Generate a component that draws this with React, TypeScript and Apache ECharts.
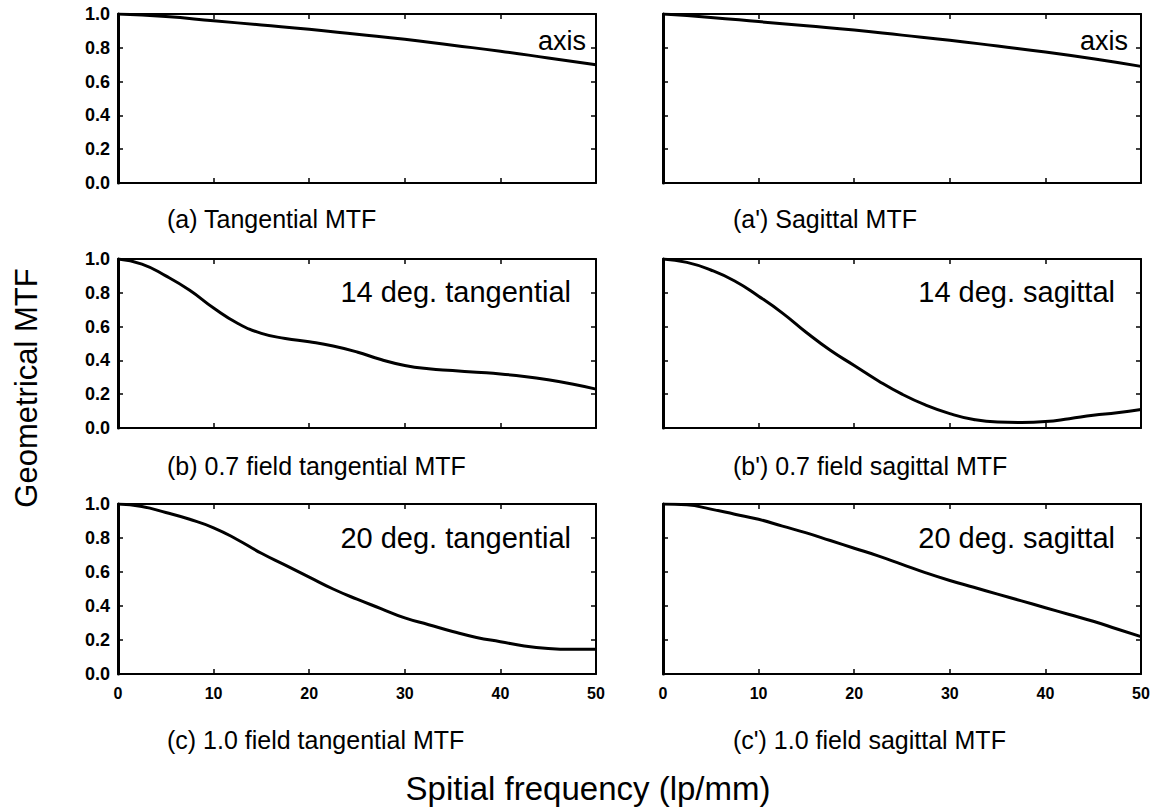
import React, { useEffect, useRef } from "react";
import * as echarts from "echarts";

// Spatial frequency samples (lp/mm)
const freqCoarse = [0, 5, 10, 15, 20, 25, 30, 35, 40, 45, 50];
const freqFine = [0, 2.5, 5, 7.5, 10, 12.5, 15, 17.5, 20, 22.5, 25, 27.5, 30, 32.5, 35, 37.5, 40, 42.5, 45, 47.5, 50];

// (a) on-axis tangential / (a') on-axis sagittal
const axisTangential = [1.0, 0.985, 0.96, 0.935, 0.91, 0.88, 0.85, 0.815, 0.78, 0.74, 0.70];
const axisSagittal = [1.0, 0.98, 0.955, 0.93, 0.905, 0.875, 0.845, 0.81, 0.775, 0.735, 0.69];

// (b) 0.7 field (14 deg)
const field07Tangential = [1.0, 0.97, 0.9, 0.815, 0.71, 0.62, 0.56, 0.53, 0.51, 0.485, 0.45, 0.405, 0.37, 0.35, 0.34, 0.33, 0.32, 0.305, 0.285, 0.26, 0.23];
const field07Sagittal = [1.0, 0.98, 0.935, 0.87, 0.78, 0.68, 0.565, 0.46, 0.37, 0.28, 0.2, 0.135, 0.085, 0.05, 0.035, 0.033, 0.038, 0.055, 0.075, 0.09, 0.11];

// (c) 1.0 field (20 deg)
const field10Tangential = [1.0, 0.985, 0.95, 0.91, 0.86, 0.79, 0.71, 0.64, 0.57, 0.5, 0.44, 0.385, 0.33, 0.29, 0.25, 0.215, 0.19, 0.165, 0.15, 0.145, 0.145];
const field10Sagittal = [1.0, 0.995, 0.97, 0.94, 0.91, 0.87, 0.83, 0.785, 0.74, 0.695, 0.645, 0.595, 0.55, 0.51, 0.47, 0.43, 0.39, 0.35, 0.31, 0.265, 0.22];

const xTicks = [0, 10, 20, 30, 40, 50];
const yTicks = [0, 0.2, 0.4, 0.6, 0.8, 1.0];

const panelLabels = ["axis", "axis", "14 deg. tangential", "14 deg. sagittal", "20 deg. tangential", "20 deg. sagittal"];
const subtitles = [
  "(a) Tangential MTF",
  "(a') Sagittal MTF",
  "(b) 0.7 field tangential MTF",
  "(b') 0.7 field sagittal MTF",
  "(c) 1.0 field tangential MTF",
  "(c') 1.0 field sagittal MTF",
];
const xTitle = "Spitial frequency (lp/mm)";
const yTitle = "Geometrical MTF";

const FONT = "'Liberation Sans', Arial, Helvetica, sans-serif";

export default function App() {
  const ref = useRef<HTMLDivElement>(null);

  useEffect(() => {
    document.body.style.margin = "0";
    if (!ref.current) return;
    const chart = echarts.init(ref.current, undefined, { renderer: "svg" });

    const cols = [
      { left: 118, width: 478 },
      { left: 663, width: 478 },
    ];
    const rows = [
      { top: 14, height: 169 },
      { top: 259, height: 169 },
      { top: 504, height: 170 },
    ];
    const panels = [
      { x: freqCoarse, y: axisTangential },
      { x: freqCoarse, y: axisSagittal },
      { x: freqFine, y: field07Tangential },
      { x: freqFine, y: field07Sagittal },
      { x: freqFine, y: field10Tangential },
      { x: freqFine, y: field10Sagittal },
    ];

    const grids: any[] = [];
    const xAxes: any[] = [];
    const yAxes: any[] = [];
    const series: any[] = [];
    const graphics: any[] = [];

    const labelY = [41, 292, 538];
    const labelSize = [27, 29, 29];
    const labelGap = [
      [10, 13],
      [25, 26],
      [25, 26],
    ];
    const subY = [219, 466, 740];
    const subX = [167, 733];

    panels.forEach((p, i) => {
      const r = Math.floor(i / 2);
      const c = i % 2;
      const g = { ...cols[c], ...rows[r] };
      grids.push({ left: g.left, top: g.top, width: g.width, height: g.height, containLabel: false });

      const common = {
        type: "value",
        gridIndex: i,
        min: 0,
        max: 50,
        interval: 10,
        splitLine: { show: false },
        axisTick: { show: true, inside: true, length: 5, lineStyle: { color: "#000", width: 1.5 } },
        axisLine: { show: true, onZero: false, lineStyle: { color: "#000", width: 2 } },
      };
      xAxes.push({
        ...common,
        position: "bottom",
        axisLabel: {
          show: r === 2,
          color: "#000",
          fontFamily: FONT,
          fontWeight: "bold",
          fontSize: 16,
          margin: 11,
          customValues: xTicks,
        },
      });
      xAxes.push({ ...common, position: "top", axisLabel: { show: false } });

      const ycommon = {
        type: "value",
        gridIndex: i,
        min: 0,
        max: 1,
        interval: 0.2,
        splitLine: { show: false },
        axisTick: { show: true, inside: true, length: 5, lineStyle: { color: "#000", width: 1.5 } },
      };
      yAxes.push({
        ...ycommon,
        position: "left",
        axisLine: { show: true, onZero: false, lineStyle: { color: "#000", width: 3 } },
        axisLabel: {
          show: c === 0,
          color: "#000",
          fontFamily: FONT,
          fontWeight: "bold",
          fontSize: 18,
          margin: 8,
          formatter: (v: number) => v.toFixed(1),
          customValues: yTicks,
        },
      });
      yAxes.push({
        ...ycommon,
        position: "right",
        axisLine: { show: true, onZero: false, lineStyle: { color: "#000", width: 2 } },
        axisLabel: { show: false },
      });

      series.push({
        type: "line",
        xAxisIndex: 2 * i,
        yAxisIndex: 2 * i,
        data: p.x.map((f, k) => [f, p.y[k]]),
        smooth: true,
        showSymbol: false,
        symbol: "none",
        lineStyle: { color: "#000", width: 3 },
        silent: true,
      });

      graphics.push({
        type: "text",
        x: g.left + g.width - labelGap[r][c],
        y: labelY[r],
        style: {
          text: panelLabels[i],
          fill: "#000",
          font: `${labelSize[r]}px ${FONT}`,
          textAlign: "right",
          textVerticalAlign: "middle",
        },
      });
      graphics.push({
        type: "text",
        x: subX[c],
        y: subY[r],
        style: {
          text: subtitles[i],
          fill: "#000",
          font: `25px ${FONT}`,
          textAlign: "left",
          textVerticalAlign: "middle",
        },
      });
    });

    graphics.push({
      type: "text",
      x: 588,
      y: 788,
      style: {
        text: xTitle,
        fill: "#000",
        font: `33px ${FONT}`,
        textAlign: "center",
        textVerticalAlign: "middle",
      },
    });
    graphics.push({
      type: "text",
      x: 26,
      y: 388,
      rotation: Math.PI / 2,
      style: {
        text: yTitle,
        fill: "#000",
        font: `31px ${FONT}`,
        textAlign: "center",
        textVerticalAlign: "middle",
      },
    });

    chart.setOption({
      animation: false,
      backgroundColor: "#fff",
      grid: grids,
      xAxis: xAxes,
      yAxis: yAxes,
      series,
      graphic: graphics,
    });

    return () => chart.dispose();
  }, []);

  return <div ref={ref} style={{ width: 1162, height: 810 }} />;
}
